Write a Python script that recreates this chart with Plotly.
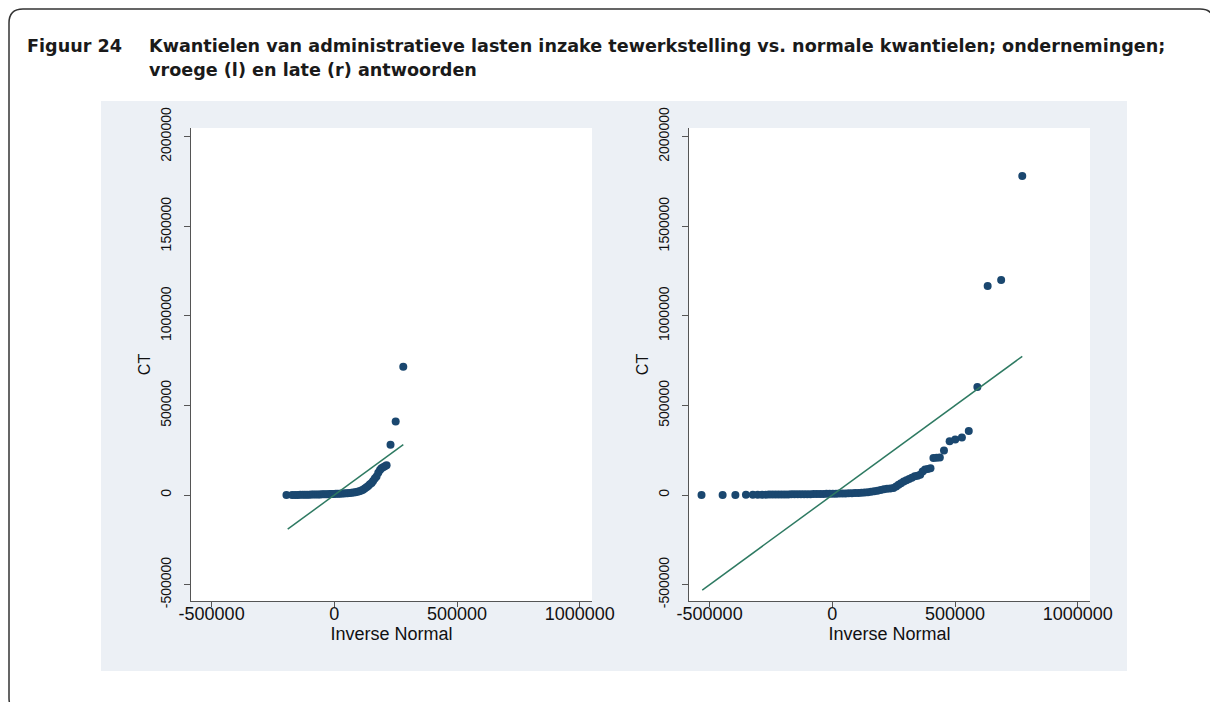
import plotly.graph_objects as go

W, H = 1210, 702

# Normal quantiles ("Inverse Normal") and sorted CT values, early responses
early_q = [-195000, -172000, -160000, -149000, -139000, -129000, -120000, -111000,
           -102000, -93000, -84000, -75000, -66000, -58000, -50000, -42000,
           -34000, -26000, -18000, -10000, -2000, 6000, 14000, 22000, 30000,
           38000, 46000, 54000, 62000, 70000, 78000, 86000, 94000, 102000,
           110000, 117000, 124000, 131000, 138000, 145000, 152000, 158000,
           165000, 172000, 179000, 186000, 192000, 199000, 206000, 213000,
           229000, 250000, 281000]
early_ct = [0, 500, 800, 1000, 1200, 1500, 1800, 2000,
            2300, 2500, 2800, 3000, 3300, 3600, 4000, 4300,
            4700, 5000, 5400, 5800, 6200, 6700, 7200, 7800, 8300,
            9000, 9800, 10500, 11500, 12500, 14000, 16000, 18000, 21000,
            25000, 30000, 36000, 43000, 51000, 60000, 68000, 78000,
            92000, 103000, 125000, 140000, 149000, 155000, 161000, 167000,
            281000, 411000, 716000]
early_ref = [-190000, 281000]

# Normal quantiles and sorted CT values, late responses
late_q = [-533000, -447000, -395000, -352000, -324000, -304000, -286000, -272000,
          -258000, -245000, -232000, -219000, -206000, -193000, -180000, -167000,
          -154000, -141000, -128000, -115000, -102000, -89000, -76000, -63000,
          -50000, -37000, -24000, -11000, 2000, 15000, 28000, 41000, 54000,
          67000, 80000, 93000, 106000, 119000, 132000, 145000, 158000, 171000,
          184000, 197000, 210000, 223000, 236000, 249000, 260000, 270000,
          280000, 291000, 302000, 313000, 324000, 336000, 347000, 358000,
          368000, 378000, 389000, 400000, 412000, 425000, 438000, 455000,
          478000, 501000, 528000, 556000, 591000, 633000, 688000, 774000]
late_ct = [0, 500, 1000, 1500, 1800, 2000, 2200, 2400,
           2600, 2800, 3000, 3200, 3400, 3600, 3800, 4000,
           4200, 4400, 4600, 4800, 5000, 5200, 5500, 5800,
           6100, 6400, 6700, 7000, 7400, 7800, 8200, 8700, 9200,
           9800, 10500, 11200, 12000, 13000, 14500, 16000, 18000, 21000,
           24000, 28000, 32000, 35000, 37000, 40000, 48000, 57000,
           66000, 76000, 83000, 90000, 97000, 105000, 108000, 113000,
           132000, 142000, 145000, 150000, 207000, 208000, 209000, 248000,
           300000, 310000, 321000, 357000, 603000, 1167000, 1200000, 1780000]
late_ref = [-530000, 774000]

x_ticks = [-500000, 0, 500000, 1000000]
y_ticks = [-500000, 0, 500000, 1000000, 1500000, 2000000]
x_range = [-584000, 1050000]
y_range = [-591000, 2048000]

NAVY = "#1a476f"
GREEN = "#2e7a62"
PANEL_BG = "#ecf0f5"
AXIS = "#555555"
TICK_FONT = "Liberation Sans"


def fx(p):
    return p / W


def fy(p):
    return 1 - p / H


fig = go.Figure()

for q, ct, ref, xa, ya in [(early_q, early_ct, early_ref, "x", "y"),
                           (late_q, late_ct, late_ref, "x2", "y2")]:
    fig.add_trace(go.Scatter(x=q, y=ct, mode="markers", xaxis=xa, yaxis=ya,
                             marker=dict(color=NAVY, size=8, line=dict(width=0)),
                             showlegend=False, hoverinfo="skip"))
    fig.add_trace(go.Scatter(x=ref, y=ref, mode="lines", xaxis=xa, yaxis=ya,
                             line=dict(color=GREEN, width=1.5),
                             showlegend=False, hoverinfo="skip"))

xaxis_common = dict(
    range=x_range, tickvals=x_ticks, ticktext=[str(v) for v in x_ticks],
    showline=True, linecolor=AXIS, linewidth=1, mirror=False,
    ticks="outside", ticklen=5, tickcolor=AXIS, tickwidth=1,
    showgrid=False, zeroline=False, automargin=False,
    ticklabelstandoff=-9,
    tickfont=dict(family=TICK_FONT, size=18, color="#111111"),
    title=dict(text="Inverse Normal", standoff=0,
               font=dict(family=TICK_FONT, size=18, color="#111111")),
)
yaxis_common = dict(
    range=y_range, tickvals=y_ticks, ticktext=[str(v) for v in y_ticks],
    domain=[fy(601), fy(128)],
    showline=True, linecolor=AXIS, linewidth=1, mirror=False,
    ticks="outside", ticklen=6, tickcolor=AXIS, tickwidth=1,
    showgrid=False, zeroline=False, tickangle=-90, automargin=False,
    ticklabelstandoff=7,
    tickfont=dict(family=TICK_FONT, size=14, color="#111111"),
    title=dict(text="CT", standoff=3,
               font=dict(family=TICK_FONT, size=16, color="#111111")),
)

fig.update_layout(
    width=W, height=H, autosize=False,
    margin=dict(l=0, r=0, t=0, b=0, pad=0, autoexpand=False),
    paper_bgcolor="white", plot_bgcolor="rgba(0,0,0,0)",
    xaxis=dict(domain=[fx(191), fx(592)], anchor="y", **xaxis_common),
    yaxis=dict(anchor="x", **yaxis_common),
    xaxis2=dict(domain=[fx(689), fx(1090)], anchor="y2", **xaxis_common),
    yaxis2=dict(anchor="x2", **yaxis_common),
)

# Graph region background and white plot regions
shapes = [
    dict(type="rect", xref="paper", yref="paper", layer="below",
         x0=fx(101), x1=fx(1127), y0=fy(671), y1=fy(101),
         fillcolor=PANEL_BG, line=dict(width=0)),
    dict(type="rect", xref="paper", yref="paper", layer="below",
         x0=fx(191), x1=fx(592), y0=fy(601), y1=fy(128),
         fillcolor="white", line=dict(width=0)),
    dict(type="rect", xref="paper", yref="paper", layer="below",
         x0=fx(689), x1=fx(1090), y0=fy(601), y1=fy(128),
         fillcolor="white", line=dict(width=0)),
]

# Rounded outer frame (runs past the right and bottom edges of the page)
L, T, R, B, r = 9, 9, 1214, 712, 14
path = (f"M {fx(L)},{fy(T + r)} Q {fx(L)},{fy(T)} {fx(L + r)},{fy(T)} "
        f"L {fx(R - r)},{fy(T)} Q {fx(R)},{fy(T)} {fx(R)},{fy(T + r)} "
        f"L {fx(R)},{fy(B - r)} Q {fx(R)},{fy(B)} {fx(R - r)},{fy(B)} "
        f"L {fx(L + r)},{fy(B)} Q {fx(L)},{fy(B)} {fx(L)},{fy(B - r)} Z")
shapes.append(dict(type="path", xref="paper", yref="paper", path=path,
                   line=dict(color="#333333", width=1.5)))
fig.update_layout(shapes=shapes)

title_font = dict(family="DejaVu Sans", size=17.6, color="#1a1a1a")
fig.add_annotation(text="<b>Figuur 24</b>", xref="paper", yref="paper",
                   x=fx(25), y=fy(46), xanchor="left", yanchor="middle",
                   showarrow=False, font=title_font)
fig.add_annotation(text="<b>Kwantielen van administratieve lasten inzake tewerkstelling vs. "
                        "normale kwantielen; ondernemingen;</b>",
                   xref="paper", yref="paper", x=fx(147), y=fy(46),
                   xanchor="left", yanchor="middle", showarrow=False, font=title_font)
fig.add_annotation(text="<b>vroege (l) en late (r) antwoorden</b>",
                   xref="paper", yref="paper", x=fx(147), y=fy(70),
                   xanchor="left", yanchor="middle", showarrow=False, font=title_font)

fig.write_html("out.html")
